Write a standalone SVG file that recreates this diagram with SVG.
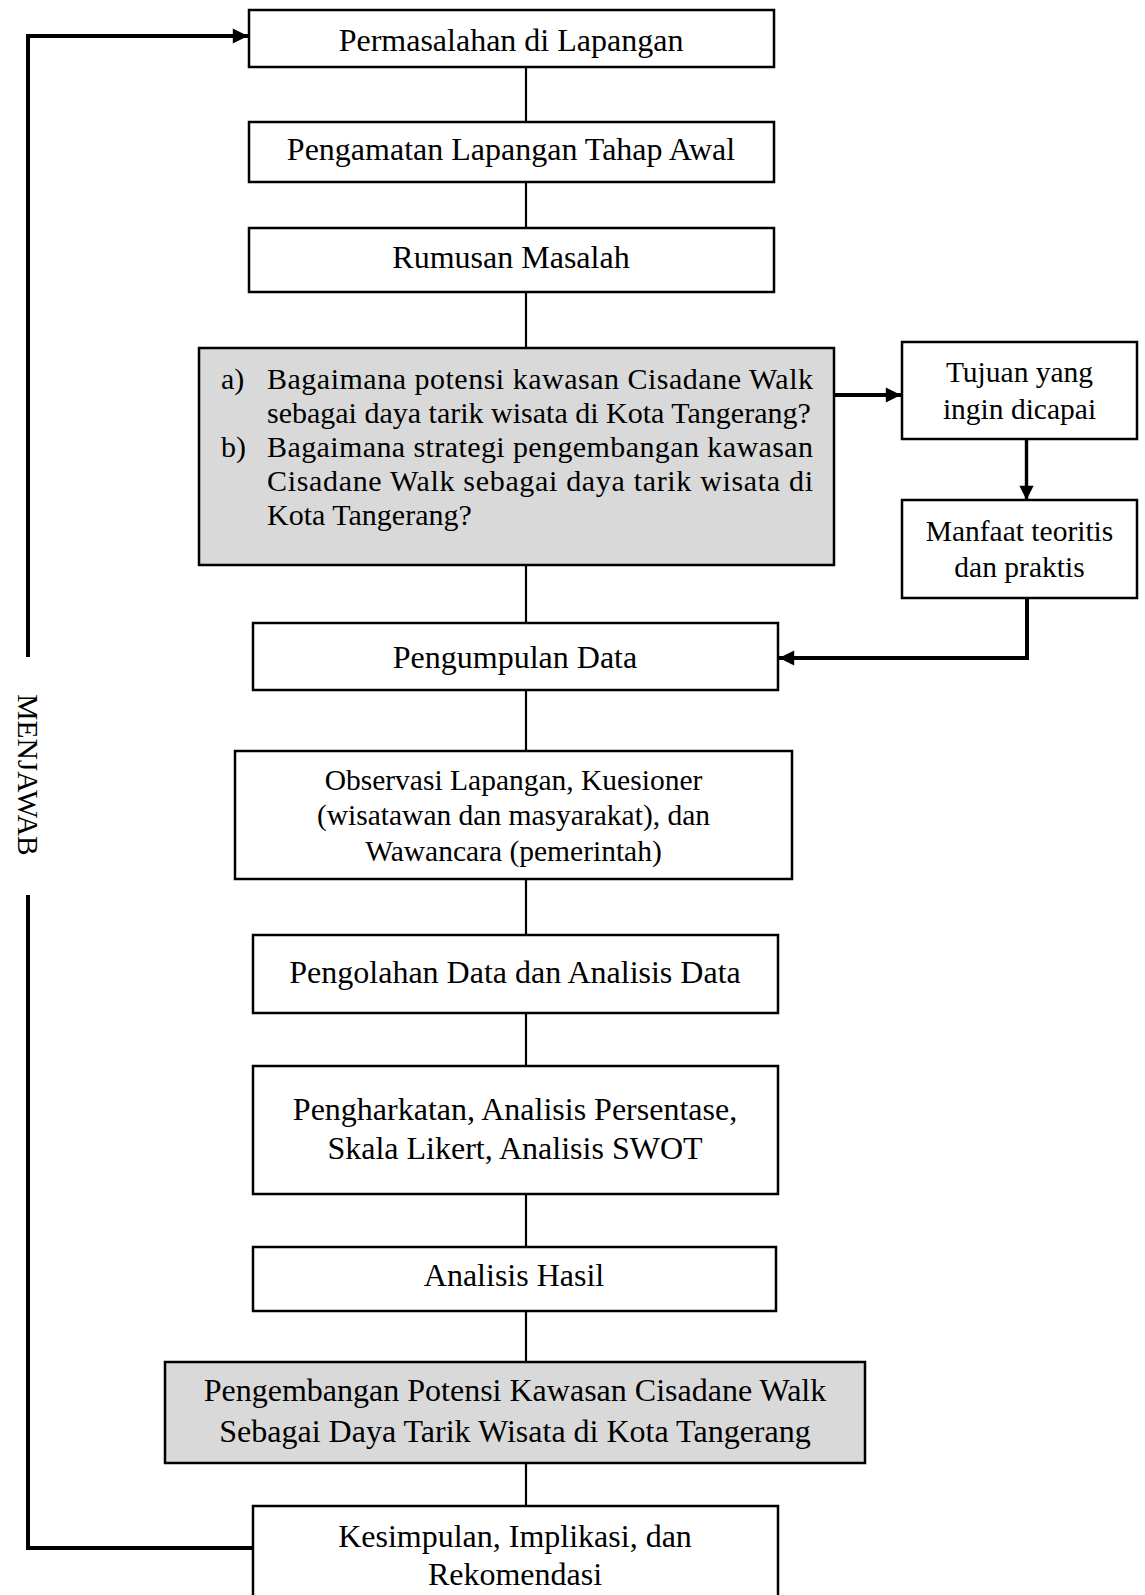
<svg xmlns="http://www.w3.org/2000/svg" width="1145" height="1595" viewBox="0 0 1145 1595">
<style>
.box{fill:#fff;stroke:#000;stroke-width:2.5}
.grey{fill:#d9d9d9;stroke:#000;stroke-width:2.5}
text{font-family:"Liberation Serif","Times New Roman",serif;fill:#000}
.t32{font-size:32px;text-anchor:middle}
.t30{font-size:29.5px;text-anchor:middle}
.q{font-size:30px}
.ln{stroke:#000;stroke-width:2.2;fill:none}
.thick{stroke:#000;stroke-width:4;fill:none}
</style>
<defs>
<marker id="ah" viewBox="0 0 10 10" refX="10" refY="5" markerWidth="4" markerHeight="3.8" markerUnits="strokeWidth" orient="auto">
<path d="M0,0 L10,5 L0,10 z" fill="#000"/>
</marker>
<marker id="ahv" viewBox="0 0 10 10" refX="10" refY="5" markerWidth="5" markerHeight="4.2" markerUnits="strokeWidth" orient="auto">
<path d="M0,0 L10,5 L0,10 z" fill="#000"/>
</marker>
</defs>
<g id="connectors">
<line class="ln" x1="526" y1="67" x2="526" y2="122"/>
<line class="ln" x1="526" y1="182" x2="526" y2="228"/>
<line class="ln" x1="526" y1="292" x2="526" y2="348"/>
<line class="ln" x1="526" y1="565" x2="526" y2="623"/>
<line class="ln" x1="526" y1="690" x2="526" y2="751"/>
<line class="ln" x1="526" y1="879" x2="526" y2="935"/>
<line class="ln" x1="526" y1="1013" x2="526" y2="1066"/>
<line class="ln" x1="526" y1="1194" x2="526" y2="1247"/>
<line class="ln" x1="526" y1="1311" x2="526" y2="1362"/>
<line class="ln" x1="526" y1="1463" x2="526" y2="1506"/>
<path class="thick" d="M834,395 L901,395" marker-end="url(#ah)"/>
<path d="M1026.5,439 L1026.5,500" stroke="#000" stroke-width="3.4" fill="none" marker-end="url(#ahv)"/>
<path class="thick" d="M1027,598 L1027,658 L779,658" marker-end="url(#ah)"/>
<path class="thick" d="M253,1548 L28,1548 L28,895"/>
<path class="thick" d="M28,657 L28,36 L248,36" marker-end="url(#ah)"/>
<text x="28" y="775" font-size="29.5" text-anchor="middle" dominant-baseline="central" transform="rotate(90 28 775)">MENJAWAB</text>
</g>
<g id="n1"><rect class="box" x="249" y="10" width="525" height="57"/><text class="t32" x="511" y="51">Permasalahan di Lapangan</text></g>
<g id="n2"><rect class="box" x="249" y="122" width="525" height="60"/><text class="t32" x="511" y="160">Pengamatan Lapangan Tahap Awal</text></g>
<g id="n3"><rect class="box" x="249" y="228" width="525" height="64"/><text class="t32" x="511" y="268">Rumusan Masalah</text></g>
<g id="n4"><rect class="grey" x="199" y="348" width="635" height="217"/>
<text class="q" x="221" y="389">a)</text>
<text class="q" x="267" y="389" textLength="546" lengthAdjust="spacing">Bagaimana potensi kawasan Cisadane Walk</text>
<text class="q" x="267" y="423">sebagai daya tarik wisata di Kota Tangerang?</text>
<text class="q" x="221" y="457">b)</text>
<text class="q" x="267" y="457" textLength="546" lengthAdjust="spacing">Bagaimana strategi pengembangan kawasan</text>
<text class="q" x="267" y="491" textLength="546" lengthAdjust="spacing">Cisadane Walk sebagai daya tarik wisata di</text>
<text class="q" x="267" y="525">Kota Tangerang?</text>
</g>
<g id="n5"><rect class="box" x="902" y="342" width="235" height="97"/><text class="t30" x="1019.5" y="382">Tujuan yang</text><text class="t30" x="1019.5" y="419">ingin dicapai</text></g>
<g id="n6"><rect class="box" x="902" y="500" width="235" height="98"/><text class="t30" x="1019.5" y="541">Manfaat teoritis</text><text class="t30" x="1019.5" y="577">dan praktis</text></g>
<g id="n7"><rect class="box" x="253" y="623" width="525" height="67"/><text class="t32" x="515" y="668">Pengumpulan Data</text></g>
<g id="n8"><rect class="box" x="235" y="751" width="557" height="128"/><text class="t30" x="513.5" y="790">Observasi Lapangan, Kuesioner</text><text class="t30" x="513.5" y="825">(wisatawan dan masyarakat), dan</text><text class="t30" x="513.5" y="861">Wawancara (pemerintah)</text></g>
<g id="n9"><rect class="box" x="253" y="935" width="525" height="78"/><text class="t32" x="515" y="983">Pengolahan Data dan Analisis Data</text></g>
<g id="n10"><rect class="box" x="253" y="1066" width="525" height="128"/><text class="t32" x="515" y="1120">Pengharkatan, Analisis Persentase,</text><text class="t32" x="515" y="1159">Skala Likert, Analisis SWOT</text></g>
<g id="n11"><rect class="box" x="253" y="1247" width="523" height="64"/><text class="t32" x="514" y="1286">Analisis Hasil</text></g>
<g id="n12"><rect class="grey" x="165" y="1362" width="700" height="101"/><text class="t32" x="515" y="1401">Pengembangan Potensi Kawasan Cisadane Walk</text><text class="t32" x="515" y="1442">Sebagai Daya Tarik Wisata di Kota Tangerang</text></g>
<g id="n13"><rect class="box" x="253" y="1506" width="525" height="100"/><text class="t32" x="515" y="1547">Kesimpulan, Implikasi, dan</text><text class="t32" x="515" y="1585">Rekomendasi</text></g>
</svg>
